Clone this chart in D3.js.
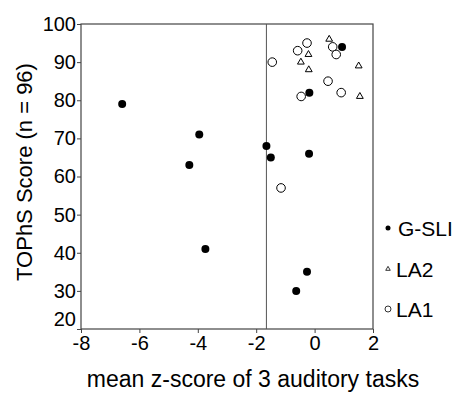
<!DOCTYPE html>
<html>
<head>
<meta charset="utf-8">
<script src="https://cdn.jsdelivr.net/npm/d3@7"></script>
<style>
  body { margin: 0; background: #fff; }
  svg text { font-family: "Liberation Sans", Arial, sans-serif; fill: #000; }
</style>
</head>
<body>
<svg id="chart" width="458" height="394"></svg>
<script>
// data
var gsliX = [0.94, -0.18, -6.59, -3.95, -4.29, -1.65, -1.50, -0.19, -3.74, -0.26, -0.63];
var gsliY = [94, 82, 79, 71, 63, 68, 65, 66, 41, 35, 30];
var la2X = [-0.21, -0.47, -0.20, 0.50, 1.51, 1.55];
var la2Y = [92, 90, 88, 96, 89, 81];
var la1X = [-1.45, -0.26, -0.58, 0.62, 0.74, 0.46, -0.46, 0.91, -1.15];
var la1Y = [90, 95, 93, 94, 92, 85, 81, 82, 57];
var xTicks = [-8, -6, -4, -2, 0, 2];
var yTicks = [20, 30, 40, 50, 60, 70, 80, 90, 100];
var cutoff = -1.65;
var legendNames = ["G-SLI", "LA2", "LA1"];

var svg = d3.select("#chart");

var margin = { top: 24, right: 85, bottom: 65, left: 81 };
var W = 458, H = 394;

var xscale = d3.scaleLinear()
    .domain([-8, 2])
    .range([margin.left, W - margin.right]);
var yscale = d3.scaleLinear()
    .domain([20, 100])
    .range([H - margin.bottom, margin.top]);

// frame
svg.append("rect")
    .attr("x", xscale(-8))
    .attr("y", yscale(100))
    .attr("width", xscale(2) - xscale(-8))
    .attr("height", yscale(20) - yscale(100))
    .attr("fill", "none")
    .attr("stroke", "#444")
    .attr("stroke-width", 1.2);

// x axis (plain hyphen for minus like the original)
var xaxis = svg.append("g")
    .attr("transform", "translate(0," + yscale(20) + ")")
    .call(d3.axisBottom(xscale).tickValues(xTicks).tickSize(4).tickPadding(3)
        .tickFormat(function (d) { return String(d); }));
xaxis.select(".domain").remove();
xaxis.selectAll("line").attr("stroke", "#444");
xaxis.selectAll("text").style("font-size", "20px").attr("fill", "#000");

// y axis
var yaxis = svg.append("g")
    .attr("transform", "translate(" + xscale(-8) + ",0)")
    .call(d3.axisLeft(yscale).tickValues(yTicks).tickSize(4).tickPadding(1));
yaxis.select(".domain").remove();
yaxis.selectAll("line").attr("stroke", "#444");
yaxis.selectAll("text").style("font-size", "20px").attr("fill", "#000")
    .attr("dy", function (d) { return d == 20 ? "-0.2em" : "0.32em"; });

// cutoff line
svg.append("line")
    .attr("x1", xscale(cutoff)).attr("x2", xscale(cutoff))
    .attr("y1", yscale(100)).attr("y2", yscale(20))
    .attr("stroke", "#555")
    .attr("stroke-width", 1);

// points
var gsli = d3.zip(gsliX, gsliY);
var la2 = d3.zip(la2X, la2Y);
var la1 = d3.zip(la1X, la1Y);

svg.selectAll("circle.la1")
    .data(la1).enter()
    .append("circle")
    .attr("class", "la1")
    .attr("cx", function (d) { return xscale(d[0]); })
    .attr("cy", function (d) { return yscale(d[1]); })
    .attr("r", 4.3)
    .attr("fill", "#fff")
    .attr("stroke", "#000")
    .attr("stroke-width", 1);

var tri = d3.symbol().type(d3.symbolTriangle).size(20);
svg.selectAll("path.la2")
    .data(la2).enter()
    .append("path")
    .attr("class", "la2")
    .attr("d", tri)
    .attr("transform", function (d) { return "translate(" + xscale(d[0]) + "," + yscale(d[1]) + ")"; })
    .attr("fill", "#fff")
    .attr("stroke", "#000")
    .attr("stroke-width", 1);

svg.selectAll("circle.gsli")
    .data(gsli).enter()
    .append("circle")
    .attr("class", "gsli")
    .attr("cx", function (d) { return xscale(d[0]); })
    .attr("cy", function (d) { return yscale(d[1]); })
    .attr("r", 4)
    .attr("fill", "#000");

// legend
var legY = [228, 269, 309];
var leg = svg.append("g");
leg.append("circle").attr("cx", 388).attr("cy", legY[0]).attr("r", 2.5).attr("fill", "#000");
leg.append("path").attr("d", d3.symbol().type(d3.symbolTriangle).size(9))
    .attr("transform", "translate(388," + legY[1] + ")")
    .attr("fill", "#fff").attr("stroke", "#000").attr("stroke-width", 0.8);
leg.append("circle").attr("cx", 388).attr("cy", legY[2]).attr("r", 3)
    .attr("fill", "#fff").attr("stroke", "#000").attr("stroke-width", 0.8);
leg.selectAll("text")
    .data(legendNames).enter()
    .append("text")
    .attr("x", function (d, i) { return i == 0 ? 398 : 396; })
    .attr("y", function (d, i) { return legY[i]; })
    .attr("dy", "0.36em")
    .style("font-size", "21px")
    .text(function (d) { return d; });

// axis titles
svg.append("text")
    .attr("transform", "translate(32,172) rotate(-90)")
    .attr("text-anchor", "middle")
    .style("font-size", "22px")
    .text("TOPhS Score (n = 96)");

svg.append("text")
    .attr("x", 253)
    .attr("y", 387)
    .attr("text-anchor", "middle")
    .style("font-size", "23px")
    .text("mean z-score of 3 auditory tasks");
</script>
</body>
</html>
